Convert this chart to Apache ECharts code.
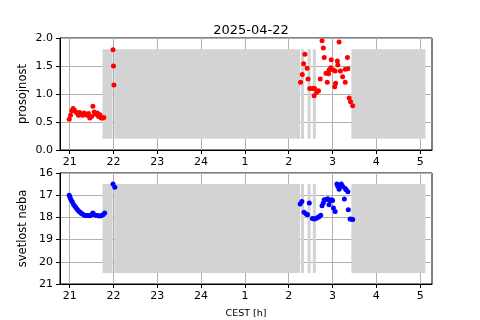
<!DOCTYPE html>
<html>
<head>
<meta charset="utf-8">
<script src="https://cdn.jsdelivr.net/npm/echarts@6/dist/echarts.min.js"></script>
<style>
  html, body { margin: 0; padding: 0; background: #fff; }
  #chart { width: 480px; height: 320px; }
</style>
</head>
<body>
<div id="chart"></div>
<script>
// hours after 24 continue as 25, 26 ... (label shows 1, 2 ...)
var hourTicks = [21, 22, 23, 24, 25, 26, 27, 28, 29];

// grey blocks (no measurement)
var grayStart = [21.75, 22.02, 26.28, 26.43, 26.55, 27.43];
var grayEnd   = [21.98, 26.26, 26.35, 26.50, 26.62, 29.12];

// prosojnost (red)
var prosTime = [20.99, 21.02, 21.05, 21.08, 21.11, 21.14, 21.17, 21.20, 21.23, 21.26, 21.30, 21.33, 21.36,
    21.40, 21.43, 21.46, 21.50, 21.53, 21.56, 21.59, 21.63, 21.66, 21.69, 21.72, 21.75, 21.78,
    21.99, 22.00, 22.01,
    26.27, 26.31, 26.34, 26.37, 26.42, 26.44, 26.48, 26.54, 26.58, 26.59, 26.64, 26.68, 26.72,
    26.76, 26.79, 26.81, 26.85, 26.88, 26.91, 26.92, 26.96, 26.97, 27.02, 27.05, 27.06, 27.07,
    27.11, 27.12, 27.15, 27.18, 27.23, 27.29, 27.29, 27.34, 27.35, 27.38, 27.41, 27.46];
var prosVal = [0.55, 0.62, 0.70, 0.74, 0.71, 0.68, 0.66, 0.62, 0.67, 0.64, 0.62, 0.66, 0.64,
    0.62, 0.65, 0.57, 0.60, 0.78, 0.68, 0.64, 0.66, 0.60, 0.63, 0.57, 0.57, 0.58,
    1.79, 1.50, 1.16,
    1.21, 1.35, 1.54, 1.71, 1.46, 1.27, 1.10, 1.10, 0.97, 1.10, 1.03, 1.06, 1.27,
    1.95, 1.82, 1.65, 1.37, 1.21, 1.36, 1.43, 1.47, 1.61, 1.43, 1.13, 1.41, 1.19,
    1.59, 1.52, 1.93, 1.41, 1.31, 1.44, 1.21, 1.65, 1.45, 0.93, 0.86, 0.79];

// svetlost neba (blue)
var svetTime = [20.99, 21.01, 21.03, 21.06, 21.09, 21.12, 21.15, 21.18, 21.21, 21.24, 21.27, 21.30, 21.34,
    21.38, 21.42, 21.46, 21.50, 21.53, 21.56, 21.60, 21.64, 21.68, 21.72, 21.76, 21.80,
    21.99, 22.03,
    26.26, 26.30, 26.35, 26.40, 26.43, 26.47, 26.54, 26.58, 26.62, 26.66, 26.69, 26.73, 26.76,
    26.79, 26.81, 26.85, 26.89, 26.92, 26.94, 26.98, 27.00, 27.02, 27.06, 27.10, 27.12, 27.15,
    27.18, 27.20, 27.23, 27.27, 27.29, 27.31, 27.35, 27.36, 27.40, 27.44, 27.46];
var svetVal = [17.00, 17.10, 17.20, 17.30, 17.42, 17.50, 17.58, 17.65, 17.72, 17.77, 17.82, 17.86, 17.90,
    17.92, 17.92, 17.93, 17.88, 17.80, 17.88, 17.90, 17.92, 17.94, 17.93, 17.88, 17.80,
    16.49, 16.64,
    17.40, 17.28, 17.77, 17.85, 17.88, 17.35, 18.05, 18.07, 18.05, 18.00, 17.97, 17.90, 17.47,
    17.35, 17.20, 17.20, 17.16, 17.43, 17.25, 17.20, 17.24, 17.58, 17.73, 16.50, 16.60, 16.73,
    16.60, 16.50, 16.60, 17.17, 16.70, 16.76, 16.85, 17.65, 18.07, 18.08, 18.10];

var font = 'DejaVu Sans';

function pairs(xs, ys) {
    var d = [];
    for (var i = 0; i < xs.length; i++) d.push([xs[i], ys[i]]);
    return d;
}

function grayData(lo, hi) {
    var d = [];
    for (var i = 0; i < grayStart.length; i++) d.push([grayStart[i], grayEnd[i], lo, hi]);
    return d;
}

function renderGray(params, api) {
    var a = api.coord([api.value(0), api.value(2)]);
    var b = api.coord([api.value(1), api.value(3)]);
    return {
        type: 'rect',
        shape: {
            x: Math.min(a[0], b[0]),
            y: Math.min(a[1], b[1]),
            width: Math.abs(b[0] - a[0]),
            height: Math.abs(b[1] - a[1])
        },
        style: { fill: '#d3d3d3' }
    };
}

function xAxisFor(idx, withName) {
    return {
        type: 'value',
        gridIndex: idx,
        min: 20.78,
        max: 29.27,
        minInterval: 1,
        maxInterval: 1,
        name: withName ? 'CEST [h]' : '',
        nameLocation: 'middle',
        nameGap: 25,
        nameMoveOverlap: false,
        nameTextStyle: { fontFamily: font, fontSize: 9.5, color: '#000' },
        axisLine: { onZero: false, lineStyle: { color: '#000', width: 1 } },
        axisTick: { customValues: hourTicks, length: 4, lineStyle: { color: '#000' } },
        axisLabel: {
            customValues: hourTicks,
            margin: 7,
            fontFamily: font,
            fontSize: 11,
            color: '#000',
            formatter: function (v) { return v > 24 ? String(v - 24) : String(v); }
        },
        splitLine: { show: true, lineStyle: { color: '#b0b0b0', width: 1 } }
    };
}

var myChart = echarts.init(document.getElementById('chart'));
var option = {
    animation: false,
    backgroundColor: '#fff',
    title: {
        text: '2025-04-22',
        left: 246,
        top: 19,
        textAlign: 'center',
        textStyle: { fontFamily: font, fontSize: 13, fontWeight: 'normal', color: '#000' }
    },
    grid: [
        { left: 60, top: 38, width: 372, height: 112, show: true, borderColor: '#000', borderWidth: 1, backgroundColor: 'transparent' },
        { left: 60, top: 173, width: 372, height: 112, show: true, borderColor: '#000', borderWidth: 1, backgroundColor: 'transparent' }
    ],
    xAxis: [xAxisFor(0, false), xAxisFor(1, true)],
    yAxis: [
        {
            type: 'value',
            gridIndex: 0,
            min: 0,
            max: 2,
            interval: 0.5,
            name: 'prosojnost',
            nameLocation: 'middle',
            nameGap: 31,
            nameMoveOverlap: false,
            nameTextStyle: { fontFamily: font, fontSize: 11.5, color: '#000' },
            axisLine: { show: true, lineStyle: { color: '#000', width: 1 } },
            axisTick: { show: true, length: 4, lineStyle: { color: '#000' } },
            axisLabel: {
                margin: 7, fontFamily: font, fontSize: 11, color: '#000',
                formatter: function (v) { return v.toFixed(1); }
            },
            splitLine: { show: true, lineStyle: { color: '#b0b0b0', width: 1 } }
        },
        {
            type: 'value',
            gridIndex: 1,
            min: 16,
            max: 21,
            interval: 1,
            inverse: true,
            name: 'svetlost neba',
            nameLocation: 'middle',
            nameGap: 31,
            nameMoveOverlap: false,
            nameTextStyle: { fontFamily: font, fontSize: 11.5, color: '#000' },
            axisLine: { show: true, lineStyle: { color: '#000', width: 1 } },
            axisTick: { show: true, length: 4, lineStyle: { color: '#000' } },
            axisLabel: { margin: 7, fontFamily: font, fontSize: 11, color: '#000' },
            splitLine: { show: true, lineStyle: { color: '#b0b0b0', width: 1 } }
        }
    ],
    series: [
        {
            type: 'custom',
            xAxisIndex: 0,
            yAxisIndex: 0,
            z: 1,
            silent: true,
            renderItem: renderGray,
            encode: { x: [0, 1], y: [2, 3] },
            data: grayData(0.2, 1.8)
        },
        {
            type: 'custom',
            xAxisIndex: 1,
            yAxisIndex: 1,
            z: 1,
            silent: true,
            renderItem: renderGray,
            encode: { x: [0, 1], y: [2, 3] },
            data: grayData(16.5, 20.5)
        },
        {
            name: 'prosojnost',
            type: 'scatter',
            xAxisIndex: 0,
            yAxisIndex: 0,
            z: 3,
            symbolSize: 5,
            itemStyle: { color: '#ff0000', opacity: 1 },
            data: pairs(prosTime, prosVal)
        },
        {
            name: 'svetlost neba',
            type: 'scatter',
            xAxisIndex: 1,
            yAxisIndex: 1,
            z: 3,
            symbolSize: 5,
            itemStyle: { color: '#0000ff', opacity: 1 },
            data: pairs(svetTime, svetVal)
        }
    ]
};
myChart.setOption(option);
</script>
</body>
</html>
